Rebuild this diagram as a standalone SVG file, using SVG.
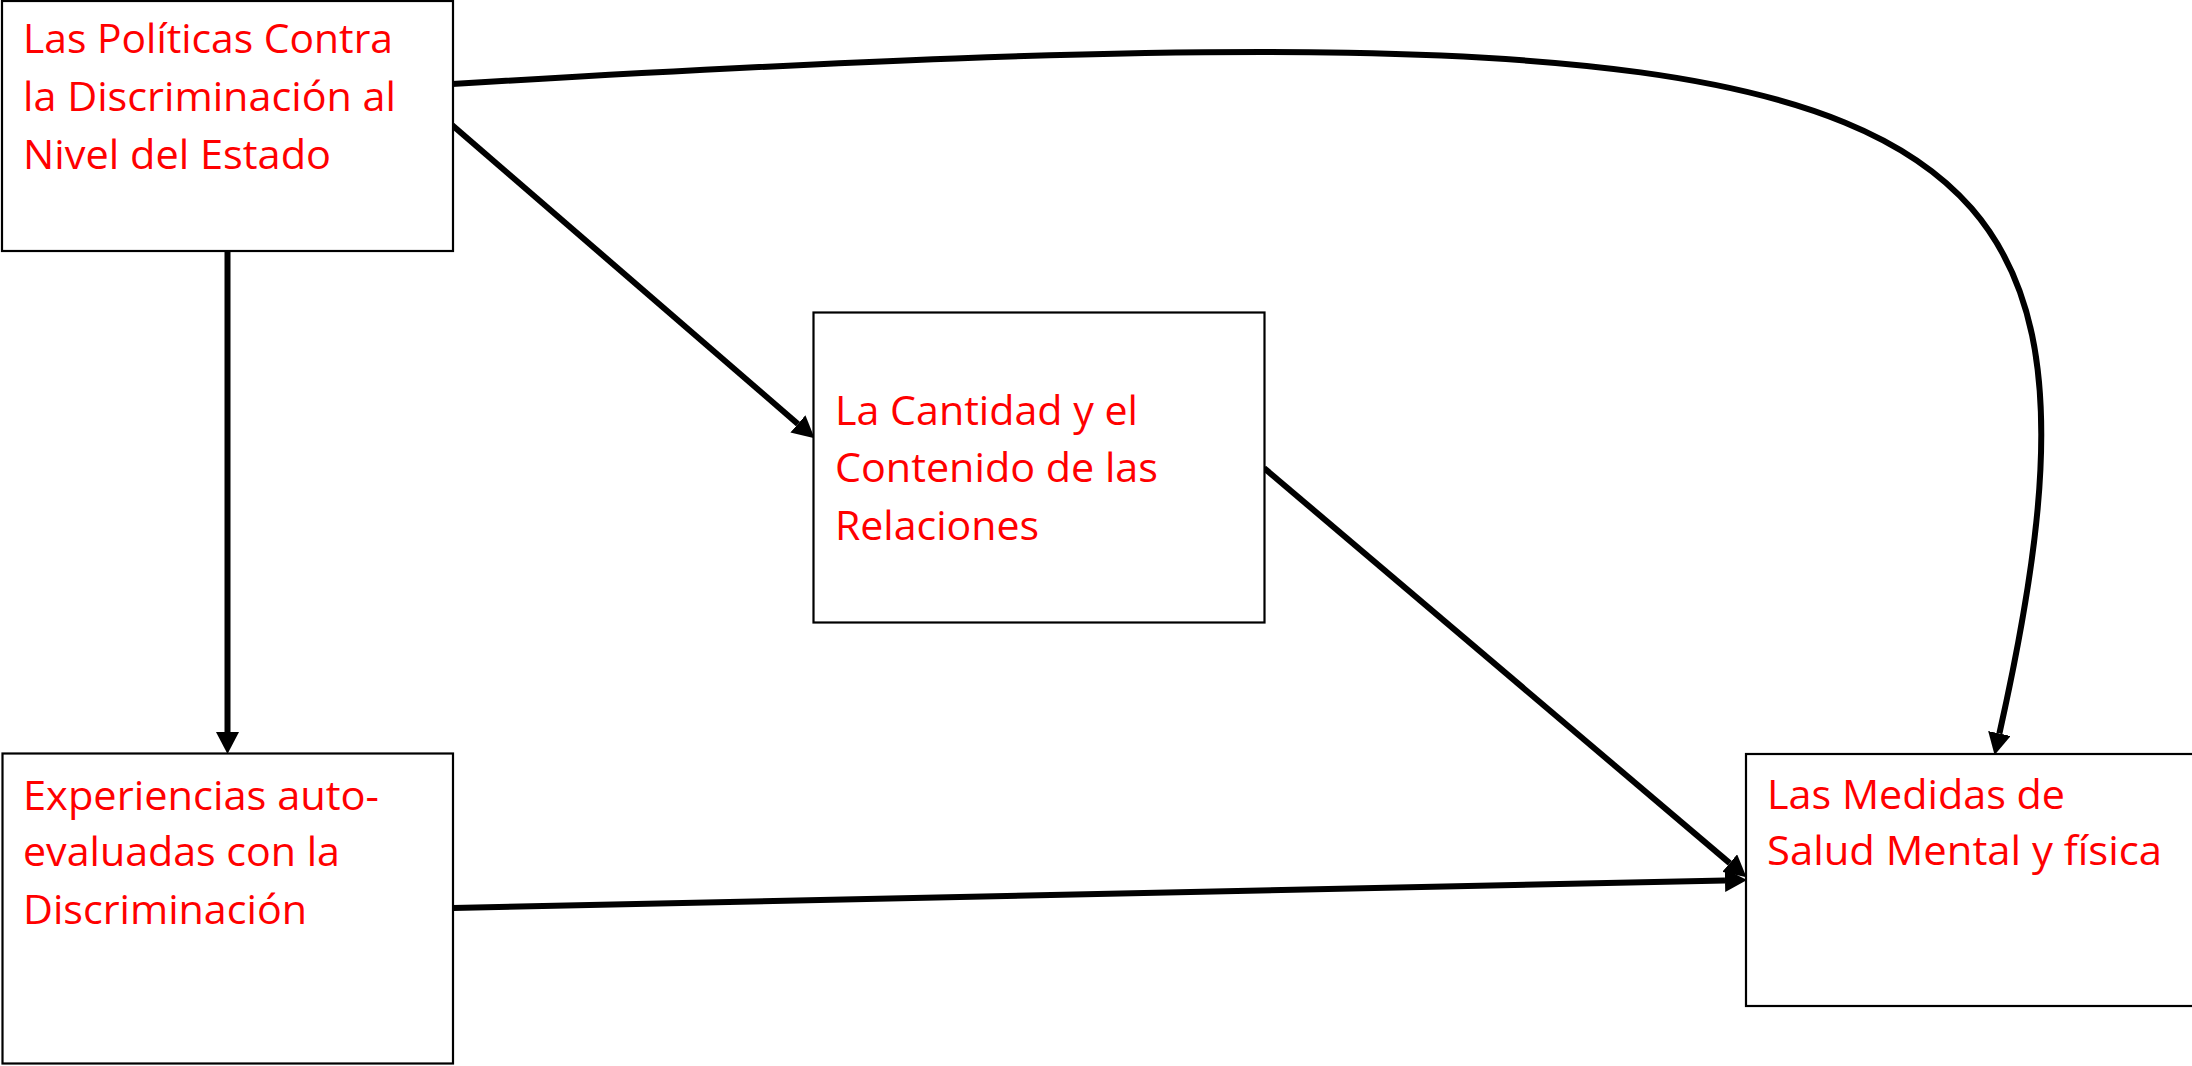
<svg xmlns="http://www.w3.org/2000/svg" width="2192" height="1066" viewBox="0 0 2192 1066">
<style>
.box{fill:#fff;stroke:#000;stroke-width:2.2}
.lbl{font-family:"Open Sans","Noto Sans","Liberation Sans",Arial,sans-serif;font-size:41px;fill:#ff0000}
.con{fill:none;stroke:#000;stroke-width:6;marker-end:url(#ah)}
</style>
<defs>
<marker id="ah" markerUnits="userSpaceOnUse" viewBox="0 0 22 23" markerWidth="22" markerHeight="23" refX="0" refY="11.5" orient="auto">
<path d="M0,0 L22,11.5 L0,23 z" fill="#000"/>
</marker>
</defs>
<rect width="2192" height="1066" fill="#fff"/>
<g id="connectors">
<path class="con" d="M227.5,251 L227.5,732"/>
<path class="con" d="M452,125 L797.9,423.9"/>
<path class="con" d="M1264,468 L1729.7,863.1"/>
<path class="con" d="M453,908 L1725,880.4"/>
<path class="con" d="M452,84 C1952,-6 2150,60 1999.4,733.5"/>
</g>
<g id="n1">
<rect class="box" x="2" y="1" width="451" height="250"/>
<text class="lbl" x="23" y="53" textLength="370" lengthAdjust="spacingAndGlyphs">Las Políticas Contra</text>
<text class="lbl" x="23" y="110.5" textLength="373" lengthAdjust="spacingAndGlyphs">la Discriminación al</text>
<text class="lbl" x="23" y="169" textLength="308" lengthAdjust="spacingAndGlyphs">Nivel del Estado</text>
</g>
<g id="n2">
<rect class="box" x="813.5" y="312.5" width="451" height="310"/>
<text class="lbl" x="835" y="425" textLength="303" lengthAdjust="spacingAndGlyphs">La Cantidad y el</text>
<text class="lbl" x="835" y="482" textLength="323" lengthAdjust="spacingAndGlyphs">Contenido de las</text>
<text class="lbl" x="835" y="539.5" textLength="204" lengthAdjust="spacingAndGlyphs">Relaciones</text>
</g>
<g id="n3">
<rect class="box" x="2.5" y="753.5" width="450.5" height="310"/>
<text class="lbl" x="23" y="809.5" textLength="356" lengthAdjust="spacingAndGlyphs">Experiencias auto-</text>
<text class="lbl" x="23" y="866" textLength="317" lengthAdjust="spacingAndGlyphs">evaluadas con la</text>
<text class="lbl" x="23" y="923.5" textLength="284" lengthAdjust="spacingAndGlyphs">Discriminación</text>
</g>
<g id="n4">
<rect class="box" x="1746" y="754" width="460" height="252"/>
<text class="lbl" x="1767" y="808.5" textLength="298" lengthAdjust="spacingAndGlyphs">Las Medidas de</text>
<text class="lbl" x="1767" y="865" textLength="395" lengthAdjust="spacingAndGlyphs">Salud Mental y física</text>
</g>
</svg>
